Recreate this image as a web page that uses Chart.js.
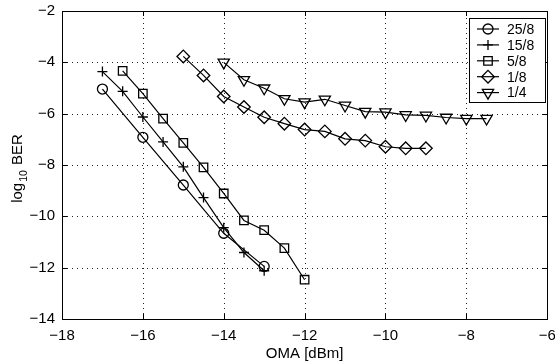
<!DOCTYPE html>
<html>
<head>
<meta charset="utf-8">
<script src="https://cdn.jsdelivr.net/npm/chart.js@4/dist/chart.umd.min.js"></script>
<style>
  html, body { margin: 0; padding: 0; background: #fff; }
  #wrap { width: 555px; height: 364px; position: relative; }
</style>
</head>
<body>
<div id="wrap"><canvas id="berChart"></canvas></div>
<script>
// values
const omaCirc = [-17, -16, -15, -14, -13];
const berCirc = [-5.04, -6.92, -8.78, -10.66, -11.95];

const omaPlus = [-17, -16.5, -16, -15.5, -15, -14.5, -14, -13.5, -13];
const berPlus = [-4.36, -5.13, -6.13, -7.10, -8.07, -9.27, -10.44, -11.41, -12.12];

const omaSq = [-16.5, -16, -15.5, -15, -14.5, -14, -13.5, -13, -12.5, -12];
const berSq = [-4.33, -5.22, -6.19, -7.14, -8.09, -9.11, -10.16, -10.54, -11.24, -12.47];

const omaDia = [-15, -14.5, -14, -13.5, -13, -12.5, -12, -11.5, -11, -10.5, -10, -9.5, -9];
const berDia = [-3.77, -4.51, -5.33, -5.74, -6.14, -6.39, -6.62, -6.69, -6.98, -7.05, -7.29, -7.35, -7.35];

const omaTri = [-14, -13.5, -13, -12.5, -12, -11.5, -11, -10.5, -10, -9.5, -9, -8.5, -8, -7.5];
const berTri = [-4.0, -4.68, -5.01, -5.42, -5.55, -5.44, -5.68, -5.92, -5.94, -6.05, -6.07, -6.15, -6.19, -6.19];

const seriesLabels = ["25/8", "15/8", "5/8", "1/8", "1/4"];
const xTicks = [-18, -16, -14, -12, -10, -8, -6];
const yTicks = [-14, -12, -10, -8, -6, -4, -2];

const FONT = "'Liberation Sans', Arial, Helvetica, sans-serif";

function pairs(xs, ys) {
  return xs.map((x, i) => ({ x: x, y: ys[i] }));
}

function minus(v) {
  return v < 0 ? "\u2212" + Math.abs(v) : String(v);
}

const markers = [
  { style: "circle", r: 5, rot: 0 },
  { style: "cross", r: 5, rot: 0 },
  { style: "rect", r: 6, rot: 0 },
  { style: "rectRot", r: 6.3, rot: 0 },
  { style: "triangle", r: 6.5, rot: 180 }
];

const allData = [
  pairs(omaCirc, berCirc),
  pairs(omaPlus, berPlus),
  pairs(omaSq, berSq),
  pairs(omaDia, berDia),
  pairs(omaTri, berTri)
];

const datasets = allData.map((d, i) => ({
  label: seriesLabels[i],
  data: d,
  showLine: true,
  borderColor: "#000",
  borderWidth: 1.2,
  backgroundColor: "rgba(0,0,0,0)",
  pointStyle: markers[i].style,
  pointRadius: markers[i].r,
  pointHoverRadius: markers[i].r,
  pointRotation: markers[i].rot,
  pointBorderColor: "#000",
  pointBackgroundColor: "rgba(0,0,0,0)",
  pointBorderWidth: 1.3
}));

// dotted grid under the data
const dottedGrid = {
  id: "dottedGrid",
  beforeDatasetsDraw(chart) {
    const ctx = chart.ctx;
    const a = chart.chartArea;
    const xs = chart.scales.x, ys = chart.scales.y;
    ctx.save();
    ctx.strokeStyle = "#222";
    ctx.lineWidth = 1;
    ctx.setLineDash([1, 4]);
    ctx.beginPath();
    xTicks.slice(1, -1).forEach(v => {
      const px = Math.round(xs.getPixelForValue(v)) + 0.5;
      ctx.moveTo(px, a.bottom); ctx.lineTo(px, a.top);
    });
    yTicks.slice(1, -1).forEach(v => {
      const py = Math.round(ys.getPixelForValue(v)) + 0.5;
      ctx.moveTo(a.left, py); ctx.lineTo(a.right, py);
    });
    ctx.stroke();
    ctx.restore();
  }
};

// box, inward ticks, legend and y title
const decor = {
  id: "decor",
  afterDraw(chart) {
    const ctx = chart.ctx;
    const a = chart.chartArea;
    const xs = chart.scales.x, ys = chart.scales.y;
    ctx.save();
    ctx.strokeStyle = "#000";
    ctx.lineWidth = 1;
    ctx.setLineDash([]);
    ctx.beginPath();
    xTicks.forEach(v => {
      const px = Math.round(xs.getPixelForValue(v)) + 0.5;
      ctx.moveTo(px, a.bottom); ctx.lineTo(px, a.bottom - 5);
      ctx.moveTo(px, a.top); ctx.lineTo(px, a.top + 5);
    });
    yTicks.forEach(v => {
      const py = Math.round(ys.getPixelForValue(v)) + 0.5;
      ctx.moveTo(a.left, py); ctx.lineTo(a.left + 5, py);
      ctx.moveTo(a.right, py); ctx.lineTo(a.right - 5, py);
    });
    ctx.stroke();
    ctx.strokeRect(Math.round(a.left) + 0.5, Math.round(a.top) + 0.5,
      Math.round(a.right - a.left), Math.round(a.bottom - a.top));

    // legend
    const bx = 469.5, by = 18.5, bw = 76, bh = 84;
    ctx.fillStyle = "#fff";
    ctx.fillRect(bx, by, bw, bh);
    ctx.strokeRect(bx, by, bw, bh);
    ctx.font = "14px " + FONT;
    ctx.textBaseline = "middle";
    ctx.textAlign = "left";
    chart.data.datasets.forEach((ds, i) => {
      const cy = 29 + i * 15.9;
      ctx.strokeStyle = "#000";
      ctx.lineWidth = 1.2;
      ctx.beginPath();
      ctx.moveTo(477, cy); ctx.lineTo(499, cy);
      ctx.stroke();
      ctx.fillStyle = "rgba(0,0,0,0)";
      ctx.lineWidth = 1.3;
      Chart.helpers.drawPoint(ctx, {
        pointStyle: ds.pointStyle, radius: ds.pointRadius,
        rotation: ds.pointRotation, borderWidth: 1.3
      }, 488, cy);
      ctx.fillStyle = "#000";
      ctx.fillText(ds.label, 507, cy + 1);
    });

    // y title: log10 BER with subscript
    ctx.translate(22, 168.5);
    ctx.rotate(-Math.PI / 2);
    ctx.fillStyle = "#000";
    ctx.textBaseline = "alphabetic";
    const big = "15px " + FONT, small = "10.5px " + FONT;
    ctx.font = big; const w1 = ctx.measureText("log").width;
    const w3 = ctx.measureText(" BER").width;
    ctx.font = small; const w2 = ctx.measureText("10").width;
    const total = w1 + 1 + w2 + 1 + w3;
    let x0 = -total / 2;
    ctx.font = big; ctx.fillText("log", x0, 0);
    ctx.font = small; ctx.fillText("10", x0 + w1 + 1, 5);
    ctx.font = big; ctx.fillText(" BER", x0 + w1 + 2 + w2, 0);
    ctx.restore();
  }
};

new Chart(document.getElementById("berChart"), {
  type: "scatter",
  data: { datasets: datasets },
  options: {
    responsive: true,
    maintainAspectRatio: false,
    animation: false,
    devicePixelRatio: 1,
    layout: { padding: { top: 11, right: 3, left: 0, bottom: 0 } },
    plugins: { legend: { display: false }, tooltip: { enabled: false } },
    scales: {
      x: {
        type: "linear",
        min: -18, max: -6,
        afterBuildTicks: s => { s.ticks = xTicks.map(v => ({ value: v })); },
        afterFit: s => { s.height = 45; s.paddingLeft = 0; s.paddingRight = 0; },
        ticks: {
          color: "#000", padding: 8, maxRotation: 0,
          font: { family: FONT, size: 15 },
          callback: v => minus(v)
        },
        grid: { display: false, drawTicks: false },
        border: { display: false },
        title: {
          display: true, text: "OMA [dBm]", color: "#000",
          font: { family: FONT, size: 15 }, padding: { top: 0, bottom: 1 }
        }
      },
      y: {
        type: "linear",
        min: -14, max: -2,
        afterBuildTicks: s => { s.ticks = yTicks.map(v => ({ value: v })); },
        afterFit: s => { s.width = 62; s.paddingTop = 0; s.paddingBottom = 0; },
        ticks: {
          color: "#000", padding: 7,
          font: { family: FONT, size: 15 },
          callback: v => minus(v)
        },
        grid: { display: false, drawTicks: false },
        border: { display: false }
      }
    }
  },
  plugins: [dottedGrid, decor]
});
</script>
</body>
</html>
